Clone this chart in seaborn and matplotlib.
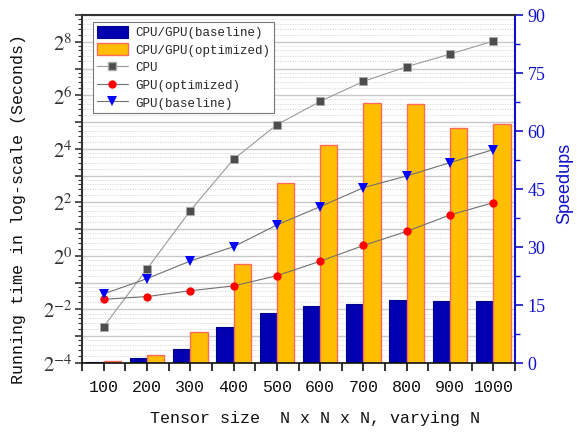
import numpy as np
import pandas as pd
import matplotlib
matplotlib.use("Agg")
import matplotlib.pyplot as plt
import matplotlib.ticker as mticker
from matplotlib.patches import Patch
from matplotlib.lines import Line2D
import seaborn as sns

# ---------------- data ----------------
sizes = ["100", "200", "300", "400", "500", "600", "700", "800", "900", "1000"]
speedup_baseline = [0.35, 1.2, 3.6, 9.3, 12.9, 14.8, 15.3, 16.4, 16.0, 16.0]
speedup_optimized = [0.4, 2.1, 7.9, 25.6, 46.5, 56.5, 67.2, 66.9, 60.8, 61.7]
time_cpu = [0.160, 0.712, 3.23, 12.2, 29.9, 54.6, 91.8, 134.4, 186.0, 261.0]
time_gpu_optimized = [0.325, 0.349, 0.406, 0.460, 0.599, 0.871, 1.31, 1.89, 2.89, 3.97]
time_gpu_baseline = [0.374, 0.555, 0.877, 1.27, 2.23, 3.58, 5.86, 7.94, 11.2, 15.7]
bar_labels = ["CPU/GPU(baseline)", "CPU/GPU(optimized)"]
line_labels = ["CPU", "GPU(optimized)", "GPU(baseline)"]

# ---------------- style ----------------
sns.set_style("ticks")
plt.rcParams["font.family"] = ["Liberation Mono", "DejaVu Sans Mono"]
plt.rcParams["mathtext.fontset"] = "stix"

BLUE_BAR = "#0000B0"
ORANGE_BAR = "#FFBF00"
ORANGE_EDGE = "#FF6A5A"
AXIS_BLUE = "#1010C8"

fig = plt.figure(figsize=(5.77, 4.32), dpi=100)
L, R, B, T = 82 / 577, 515 / 577, 1 - 363 / 432, 1 - 15 / 432
ax = fig.add_axes([L, B, R - L, T - B])
ax2 = ax.twinx()   # bars (speedups)
ax3 = ax.twinx()   # lines (log time)

# ---------------- bars ----------------
df_bar = pd.DataFrame({
    "size": sizes * 2,
    "speedup": speedup_baseline + speedup_optimized,
    "kind": [bar_labels[0]] * len(sizes) + [bar_labels[1]] * len(sizes),
})
sns.barplot(data=df_bar, x="size", y="speedup", hue="kind", ax=ax2,
            palette={bar_labels[0]: BLUE_BAR, bar_labels[1]: ORANGE_BAR},
            width=0.8, saturation=1, errorbar=None, legend=False, linewidth=0)
for p in ax2.containers[0]:
    p.set_edgecolor("#00008A")
    p.set_linewidth(0.8)
for p in ax2.containers[1]:
    p.set_edgecolor(ORANGE_EDGE)
    p.set_linewidth(1.0)

# ---------------- lines ----------------
pos = np.arange(len(sizes))
line_kw = dict(ax=ax3, linewidth=0.8)
sns.lineplot(x=pos, y=time_cpu, color="#9A9A9A", marker="s", markersize=5.5,
             markerfacecolor="#4D4D4D", markeredgecolor="#AAAAAA", markeredgewidth=0.6, **line_kw)
sns.lineplot(x=pos, y=time_gpu_optimized, color="#707070", marker="o", markersize=6,
             markerfacecolor="#FF0000", markeredgecolor="#FF0000", markeredgewidth=0, **line_kw)
sns.lineplot(x=pos, y=time_gpu_baseline, color="#707070", marker="v", markersize=7.5,
             markerfacecolor="#0000FF", markeredgecolor="#0000FF", markeredgewidth=0, **line_kw)

# ---------------- axes: log left ----------------
for a in (ax, ax3):
    a.set_yscale("log", base=2)
    a.set_ylim(2 ** -4, 2 ** 9)
ax.yaxis.set_major_locator(mticker.LogLocator(base=2, subs=(1.0,), numticks=30))
ax.yaxis.set_minor_locator(mticker.LogLocator(base=2, subs=(1.2, 1.4, 1.6, 1.8), numticks=30))


def fmt(v, _):
    k = int(round(np.log2(v)))
    return r"$2^{%d}$" % k if k % 2 == 0 else ""


ax.yaxis.set_major_formatter(mticker.FuncFormatter(fmt))
ax.yaxis.set_minor_formatter(mticker.NullFormatter())
ax.tick_params(axis="y", which="major", length=5, width=1.2, labelsize=15,
               colors="#333333", pad=2)
ax.tick_params(axis="y", which="minor", length=3, width=0.8, colors="#333333")
ax.grid(True, which="major", axis="y", color="#C8C8C8", linewidth=1.0, linestyle="-")
ax.grid(True, which="minor", axis="y", color="#D5D5D5", linewidth=0.6, linestyle=(0, (1.5, 1.5)))
ax.grid(False, axis="x")

# hide ax3 decorations
ax3.yaxis.set_visible(False)
for s in ax3.spines.values():
    s.set_visible(False)

# ---------------- x axis ----------------
ax.set_xlim(-0.5, len(sizes) - 0.5)
ax.xaxis.set_major_locator(mticker.FixedLocator(pos))
ax.xaxis.set_major_formatter(mticker.FixedFormatter(sizes))
ax.xaxis.set_minor_locator(mticker.FixedLocator(np.arange(-0.5, len(sizes), 1.0)))
ax.tick_params(axis="x", which="both", length=6, width=1.2, colors="#111111")
ax.tick_params(axis="x", which="major", labelsize=12, pad=6)
ax.set_xlabel("")

# ---------------- right axis ----------------
ax2.set_ylim(0, 90)
ax2.yaxis.set_major_locator(mticker.MultipleLocator(15))
ax2.yaxis.set_minor_locator(mticker.MultipleLocator(7.5))
ax2.tick_params(axis="y", which="major", length=6, width=1.2, colors=AXIS_BLUE,
                labelsize=13, pad=3)
ax2.tick_params(axis="y", which="minor", length=3.5, width=1.0, colors=AXIS_BLUE)
for lab in ax2.get_yticklabels():
    lab.set_family(["Liberation Serif"])
ax2.set_ylabel("")
ax2.set_xlabel("")

# spines
ax.spines["left"].set_color("#333333")
ax.spines["left"].set_linewidth(1.5)
for k in ("top", "bottom", "right"):
    ax.spines[k].set_visible(False)
ax2.spines["left"].set_visible(False)
ax2.spines["right"].set_color(AXIS_BLUE)
ax2.spines["right"].set_linewidth(1.5)
ax2.spines["top"].set_color("#333333")
ax2.spines["top"].set_linewidth(1.5)
ax2.spines["bottom"].set_color("#111111")
ax2.spines["bottom"].set_linewidth(1.2)
ax2.spines["bottom"].set_visible(True)
ax2.spines["top"].set_visible(True)

# ---------------- labels ----------------
fig.text(19 / 577, 1 - 209 / 432, "Running time in log-scale (Seconds)", rotation=90,
         ha="center", va="center", fontsize=12, color="#111111")
fig.text(315 / 577, 1 - 418 / 432, "Tensor size  N x N x N, varying N",
         ha="center", va="center", fontsize=12, color="#111111")
fig.text(565 / 577, 1 - 183 / 432, "Speedups", rotation=90, ha="center", va="center",
         fontsize=13, color=AXIS_BLUE, family=["Liberation Sans"])

# ---------------- legend ----------------
handles = [
    Patch(facecolor=BLUE_BAR, edgecolor="#00008A", linewidth=0.8, label=bar_labels[0]),
    Patch(facecolor=ORANGE_BAR, edgecolor=ORANGE_EDGE, linewidth=1.0, label=bar_labels[1]),
    Line2D([], [], color="#9A9A9A", lw=0.8, marker="s", markersize=5.5,
           markerfacecolor="#4D4D4D", markeredgecolor="#AAAAAA", label=line_labels[0]),
    Line2D([], [], color="#707070", lw=0.8, marker="o", markersize=6,
           markerfacecolor="#FF0000", markeredgewidth=0, label=line_labels[1]),
    Line2D([], [], color="#707070", lw=0.8, marker="v", markersize=7.5,
           markerfacecolor="#0000FF", markeredgewidth=0, label=line_labels[2]),
]
leg = ax3.legend(handles=handles, loc="upper left",
                 bbox_to_anchor=((93 - 82) / 433, (363 - 22) / 348),
                 fontsize=9, frameon=True, fancybox=False, framealpha=1,
                 edgecolor="#777777", borderpad=0.3, labelspacing=0.35,
                 handlelength=2.5, handleheight=1.1, handletextpad=0.6,
                 borderaxespad=0)
leg.get_frame().set_linewidth(0.8)

fig.savefig("out.png", dpi=100)
